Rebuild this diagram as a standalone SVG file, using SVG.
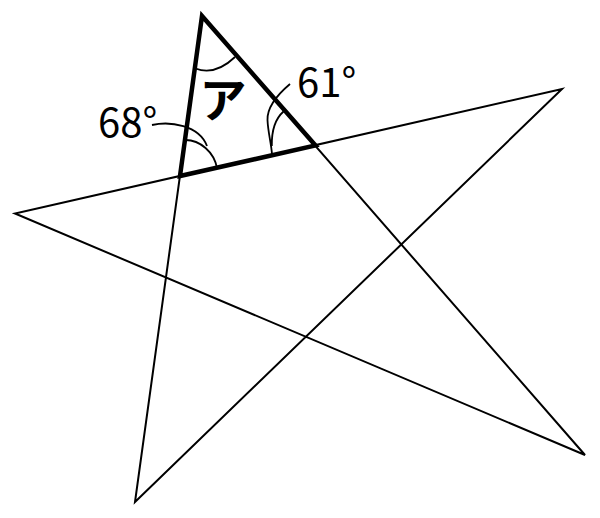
<svg xmlns="http://www.w3.org/2000/svg" width="600" height="518" viewBox="0 0 600 518">
<style>
.thin{fill:none;stroke:#000;stroke-width:2;stroke-linejoin:miter}
.bold{fill:none;stroke:#000;stroke-width:4.5;stroke-linejoin:miter;stroke-miterlimit:10}
.arc{fill:none;stroke:#000;stroke-width:1.8}
.lbl{font-family:"Noto Sans CJK JP","Noto Sans",sans-serif;font-size:40px;fill:#000}
.kana{font-family:"Noto Sans CJK JP",sans-serif;font-size:47px;font-weight:bold;fill:#000}
</style>
<rect width="600" height="518" fill="#fff"/>
<g id="star">
<polygon class="thin" points="202,16 135,502 562,89 15,213.5 585,455"/>
</g>
<g id="triangle">
<polygon class="bold" points="202,16 180,176 315.5,145.5"/>
</g>
<g id="marks">
<path class="arc" d="M195.5,68.5 Q215,76 235,57"/>
<path class="arc" d="M152,125 C170,121 199,125 207,146"/>
<path class="arc" d="M185.5,140 C200,140 214,152 217,168"/>
<path class="arc" d="M290,84 C277,95 267,107 267.5,120 C268,132 271,142 272,154"/>
<path class="arc" d="M283.5,111.5 C275,119 271.5,130 271.8,146"/>
</g>
<g id="labels">
<text class="lbl" x="98" y="137">68°</text>
<text class="lbl" x="297" y="97">61°</text>
<text class="kana" x="223" y="117" text-anchor="middle">ア</text>
</g>
</svg>
